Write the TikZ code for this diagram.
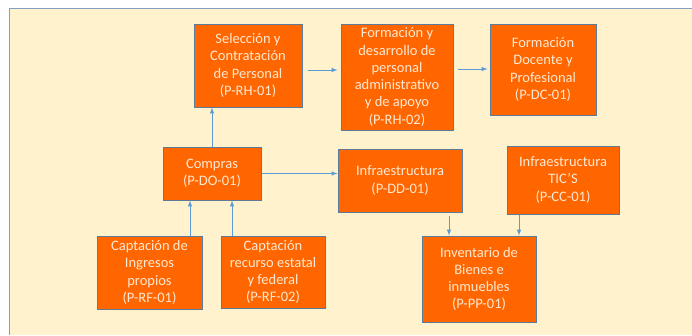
\documentclass[tikz,border=0pt]{standalone}
\usepackage{fontspec}
\setmainfont{Carlito}
\usetikzlibrary{positioning}
\definecolor{fondo}{HTML}{FFF2CC}
\definecolor{marco}{HTML}{7F9FC6}
\definecolor{naranja}{HTML}{FF6600}
\definecolor{borde}{HTML}{5E7A99}
\definecolor{flecha}{HTML}{5B9BD5}
\definecolor{letra}{HTML}{FFE8D2}

\begin{document}
\begin{tikzpicture}[x=1pt,y=-1pt, proc/.style={draw=borde,line width=1pt,fill=naranja,
		text=letra,align=center,inner sep=2pt,font=\fontsize{14.5}{17.3}\selectfont},
		flujo/.style={draw=flecha,line width=1pt,-latex,>=latex}]
	\useasboundingbox (0,0) rectangle (692,335);
	\fill[fondo] (9.5,8) rectangle (692,335);
	\draw[marco,line width=1pt] (9.5,335) -- (9.5,8) -- (692,8);
	\node[proc,minimum width=108pt,minimum height=83pt] (sel) at (248,65.5) {Selección y\\Contratación\\de Personal\\(P-RH-01)};
	\node[proc,minimum width=112pt,minimum height=106pt] (frh) at (397,77) {Formación y\\desarrollo de\\personal\\administrativo\\y de apoyo\\(P-RH-02)};
	\node[proc,minimum width=106pt,minimum height=91pt] (fdc) at (543,69.5) {Formación\\Docente y\\Profesional\\(P-DC-01)};
	\node[proc,minimum width=98pt,minimum height=53pt] (com) at (212,173.5) {Compras\\(P-DO-01)};
	\node[proc,minimum width=124pt,minimum height=63pt] (inf) at (400,180.5) {Infraestructura\\(P-DD-01)};
	\node[proc,minimum width=112pt,minimum height=68pt] (tic) at (563,180) {Infraestructura\\TIC’S\\(P-CC-01)};
	\node[proc,minimum width=114pt,minimum height=86pt] (inv) at (479,279) {Inventario de\\Bienes e\\inmuebles\\(P-PP-01)};
	\node[proc,minimum width=105pt,minimum height=73pt] (rf1) at (149.5,272.5) {Captación de\\Ingresos\\propios\\(P-RF-01)};
	\node[proc,minimum width=104pt,minimum height=72pt] (rf2) at (273,272) {Captación\\recurso estatal\\y federal\\(P-RF-02)};
	\draw[flujo,shorten <=5pt,shorten >=3pt] (sel.east |- 0,70) -- (frh.west |- 0,70);
	\draw[flujo,shorten <=4pt,shorten >=2pt] (frh.east |- 0,69) -- (fdc.west |- 0,69);
	\draw[flujo] (com.north) -- (com.north |- sel.south);
	\draw[flujo] (com.east) -- (com.east -| inf.west);
	\draw[flujo] ([xshift=40.5pt]rf1.north) -- ([xshift=40.5pt]rf1.north |- com.south);
	\draw[flujo] ([xshift=-41pt]rf2.north) -- ([xshift=-41pt]rf2.north |- com.south);
	\draw[flujo,shorten <=3pt] ([xshift=49pt]inf.south) -- ([xshift=49pt]inf.south |- inv.north);
	\draw[flujo] ([xshift=-44pt]tic.south) -- ([xshift=-44pt]tic.south |- inv.north);
\end{tikzpicture}
\end{document}
